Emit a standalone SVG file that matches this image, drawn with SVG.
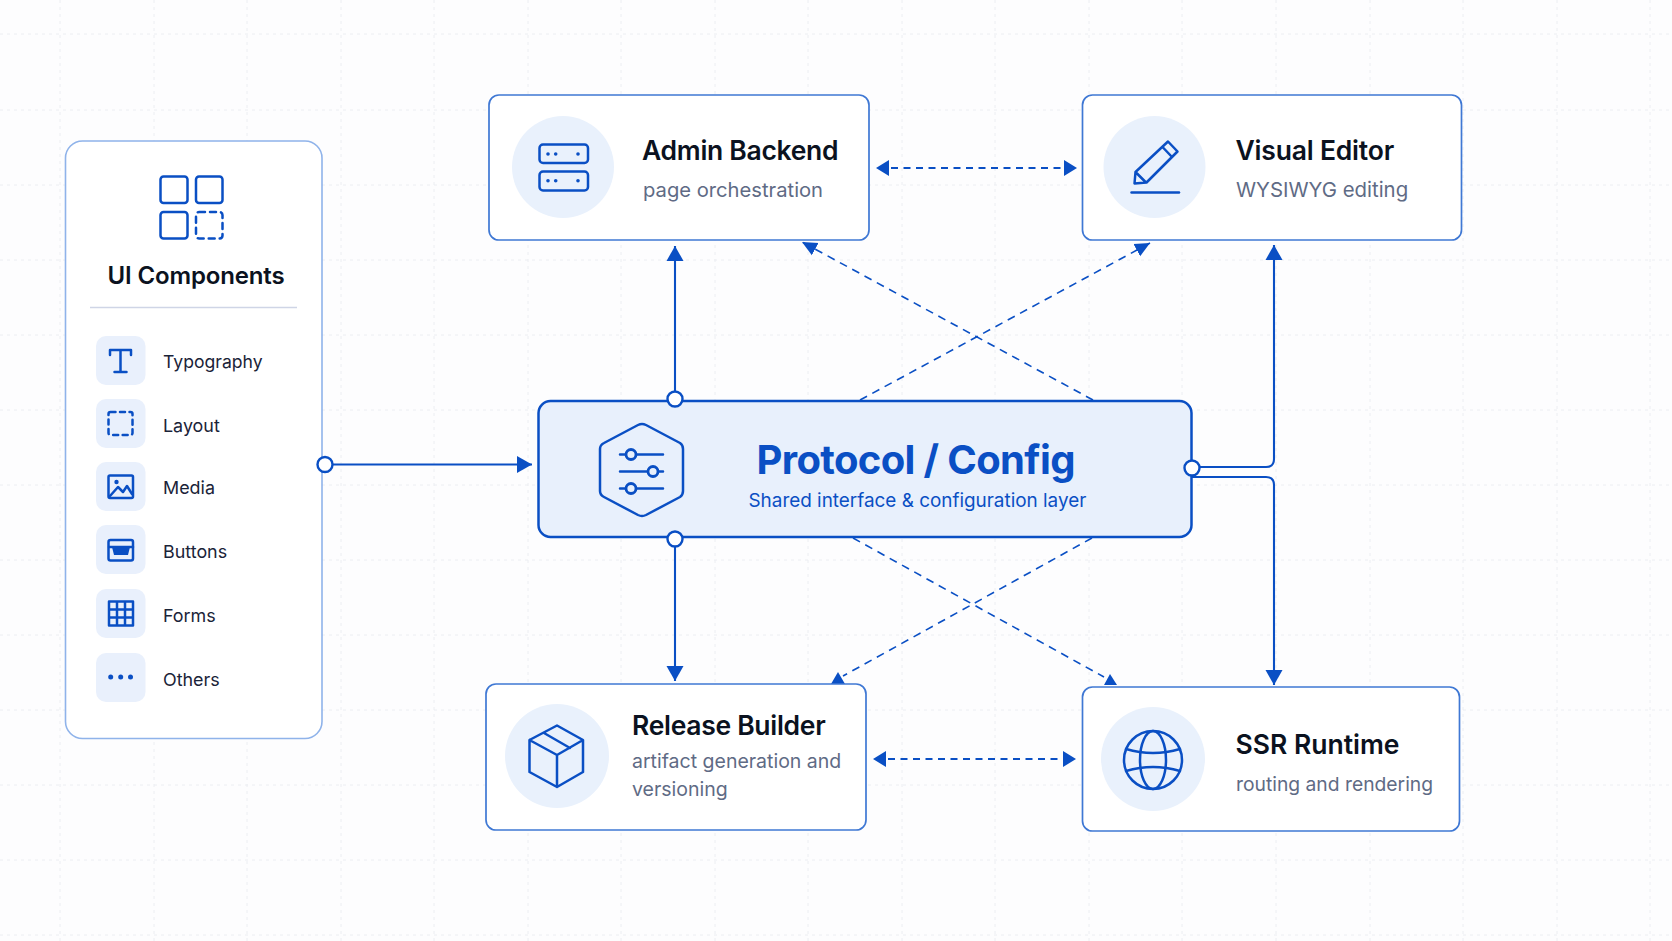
<svg xmlns="http://www.w3.org/2000/svg" width="1672" height="941" viewBox="0 0 1672 941">
<style>
text{font-family:"Inter","Liberation Sans",sans-serif}
.card{fill:#fff;stroke:#3f78d4;stroke-width:1.7}
.disc{fill:#e9f1fc}
.tile{fill:#e9f0fc}
.ico{fill:none;stroke:#0a4fc4;stroke-width:2.5;stroke-linecap:round;stroke-linejoin:round}
.fillb{fill:#0a4fc4}
.t{font-size:26.5px;font-weight:600;fill:#0b1220;letter-spacing:-.3px}
.s{font-size:20.2px;fill:#5f6b85}
.l{font-size:17.9px;fill:#1a2338}
.solid{fill:none;stroke:#0a4fc4;stroke-width:2.1}
.dash{fill:none;stroke:#0a4fc4;stroke-width:2.2;stroke-dasharray:7 5.500}
.thin{fill:none;stroke:#0a4fc4;stroke-width:1.6;stroke-dasharray:8 6}
.port{fill:#fff;stroke:#0a4fc4;stroke-width:2.4}
.grid line{stroke:#eceef2;stroke-width:1;stroke-dasharray:3 4}
</style>
<defs>
<marker id="arr" markerUnits="userSpaceOnUse" markerWidth="18" markerHeight="20" refX="15" refY="10" orient="auto"><path d="M0 1.500L15 10L0 18.500Z" fill="#0a4fc4"/></marker>
<marker id="arrs" markerUnits="userSpaceOnUse" markerWidth="18" markerHeight="18" refX="15" refY="9" orient="auto"><path d="M0 2L15 9L0 16Z" fill="#0a4fc4"/></marker>
</defs>
<rect width="1672" height="941" fill="#fdfdfe"/>
<g class="grid">
<line x1="60" y1="0" x2="60" y2="941"/><line x1="154" y1="0" x2="154" y2="941"/><line x1="247" y1="0" x2="247" y2="941"/><line x1="341" y1="0" x2="341" y2="941"/><line x1="434" y1="0" x2="434" y2="941"/><line x1="528" y1="0" x2="528" y2="941"/><line x1="621" y1="0" x2="621" y2="941"/><line x1="715" y1="0" x2="715" y2="941"/><line x1="808" y1="0" x2="808" y2="941"/><line x1="902" y1="0" x2="902" y2="941"/><line x1="995" y1="0" x2="995" y2="941"/><line x1="1089" y1="0" x2="1089" y2="941"/><line x1="1182" y1="0" x2="1182" y2="941"/><line x1="1276" y1="0" x2="1276" y2="941"/><line x1="1370" y1="0" x2="1370" y2="941"/><line x1="1463" y1="0" x2="1463" y2="941"/><line x1="1557" y1="0" x2="1557" y2="941"/><line x1="1650" y1="0" x2="1650" y2="941"/>
<line x1="0" y1="34" x2="1672" y2="34"/><line x1="0" y1="110" x2="1672" y2="110"/><line x1="0" y1="185" x2="1672" y2="185"/><line x1="0" y1="260" x2="1672" y2="260"/><line x1="0" y1="335" x2="1672" y2="335"/><line x1="0" y1="410" x2="1672" y2="410"/><line x1="0" y1="485" x2="1672" y2="485"/><line x1="0" y1="560" x2="1672" y2="560"/><line x1="0" y1="635" x2="1672" y2="635"/><line x1="0" y1="710" x2="1672" y2="710"/><line x1="0" y1="785" x2="1672" y2="785"/><line x1="0" y1="860" x2="1672" y2="860"/><line x1="0" y1="935" x2="1672" y2="935"/>
</g>
<g id="connectors">
<path class="solid" d="M325 464.500H532" marker-end="url(#arr)"/>
<path class="solid" d="M675 399V246" marker-end="url(#arr)"/>
<path class="solid" d="M675 539V681" marker-end="url(#arr)"/>
<path class="solid" d="M1192 467H1266Q1274 467 1274 459V245" marker-end="url(#arr)"/>
<path class="solid" d="M1192 477H1266Q1274 477 1274 485V685" marker-end="url(#arr)"/>
<path class="dash" d="M891 168H1062"/>
<path class="fillb" d="M876 168L889 160V176Z"/><path class="fillb" d="M1077 168L1064 160V176Z"/>
<path class="dash" d="M888 759H1061"/>
<path class="fillb" d="M873 759L886 751V767Z"/><path class="fillb" d="M1076 759L1063 751V767Z"/>
<path class="thin" d="M1093 400L802 242" marker-end="url(#arrs)"/>
<path class="thin" d="M860 400L1150 243" marker-end="url(#arrs)"/>
<path class="thin" d="M1092 538L843 676"/>
<path class="thin" d="M853 538L1104 677"/>
<path class="fillb" d="M838 672L845 684H831Z"/>
<path class="fillb" d="M1110 674L1117 685H1104Z"/>
</g>
<g id="ui-components">
<rect x="65.500" y="141" width="256.500" height="597.500" rx="17" fill="#fff" stroke="#8fb3ea" stroke-width="1.600"/>
<g class="ico">
<rect x="160.500" y="176.500" width="27" height="26.500" rx="3"/><rect x="196" y="176.500" width="26.500" height="26.500" rx="3"/><rect x="160.500" y="212" width="27" height="26.500" rx="3"/><rect x="196" y="212" width="26.500" height="26.500" rx="3" stroke-dasharray="6 5"/>
</g>
<text x="196" y="284" text-anchor="middle" font-size="24" font-weight="600" fill="#0b1220" letter-spacing="-.15">UI Components</text>
<line x1="90" y1="307.500" x2="297" y2="307.500" stroke="#cfd5e6" stroke-width="1.500"/>
<g id="item-typography"><rect class="tile" x="96" y="336" width="49.500" height="49" rx="10"/><path class="ico" stroke-width="2" d="M110 355V350H131V355M120.500 350V372M114.500 372H126.500"/><text class="l" x="163" y="368" font-size="17.600" style="font-size:17.600px">Typography</text></g>
<g id="item-layout"><rect class="tile" x="96" y="399" width="49.500" height="49" rx="10"/><rect class="ico" x="108.500" y="412" width="24" height="23" rx="2" stroke-dasharray="5 4.500"/><text class="l" x="163" y="431.500">Layout</text></g>
<g id="item-media"><rect class="tile" x="96" y="462" width="49.500" height="49" rx="10"/><rect class="ico" stroke-width="2.200" x="108.500" y="475.500" width="24.500" height="22.500" rx="1.500"/><circle class="fillb" cx="116.500" cy="482" r="2.200"/><path class="ico" stroke-width="2" d="M110 496L118 487L123 492L127 486L132 494"/><text class="l" x="163" y="493.500">Media</text></g>
<g id="item-buttons"><rect class="tile" x="96" y="525" width="49.500" height="49" rx="10"/><rect class="ico" x="108.500" y="540" width="24.500" height="20.500" rx="2"/><path class="ico" stroke-width="2" d="M109 547H133"/><path class="fillb" d="M112 547H130L128 555H114Z"/><text class="l" x="163" y="557.500">Buttons</text></g>
<g id="item-forms"><rect class="tile" x="96" y="589" width="49.500" height="49" rx="10"/><path class="ico" stroke-width="2" d="M109 601.500H133V625.500H109ZM117 601.500V625.500M125 601.500V625.500M109 609.500H133M109 617.500H133"/><text class="l" x="163" y="621.500">Forms</text></g>
<g id="item-others"><rect class="tile" x="96" y="653" width="49.500" height="49" rx="10"/><circle class="fillb" cx="110.700" cy="677" r="2.500"/><circle class="fillb" cx="120.700" cy="677" r="2.500"/><circle class="fillb" cx="130.500" cy="677" r="2.500"/><text class="l" x="163" y="685.500">Others</text></g>
</g>
<g id="admin-backend">
<rect class="card" x="489" y="95" width="380" height="145" rx="10"/>
<circle class="disc" cx="563" cy="167" r="51"/>
<rect class="ico" x="539.500" y="144.500" width="48.500" height="18.500" rx="3.500"/><rect class="ico" x="539.500" y="171.500" width="48.500" height="19" rx="3.500"/>
<circle class="fillb" cx="548" cy="154" r="1.800"/><circle class="fillb" cx="555.700" cy="154" r="1.800"/><circle class="fillb" cx="578" cy="154" r="1.800"/><circle class="fillb" cx="548" cy="180.700" r="1.800"/><circle class="fillb" cx="555.700" cy="180.700" r="1.800"/><circle class="fillb" cx="578" cy="180.700" r="1.800"/>
<text class="t" x="642" y="160">Admin Backend</text>
<text class="s" x="643" y="197">page orchestration</text>
</g>
<g id="visual-editor">
<rect class="card" x="1082.500" y="95" width="379" height="145" rx="10"/>
<circle class="disc" cx="1154.500" cy="167" r="51"/>
<path class="ico" d="M1134.500 183.500L1135.500 172L1168 141.500L1177.500 151.500L1146.500 182.500ZM1135.500 172L1146 182.500M1162.500 147L1172 157"/>
<path class="ico" stroke-width="3" stroke-linecap="butt" d="M1131.500 192.500H1179"/>
<text class="t" x="1235.500" y="160" style="letter-spacing:-.2px">Visual Editor</text>
<text class="s" x="1236" y="197" style="font-size:20.400px">WYSIWYG editing</text>
</g>
<g id="protocol-config">
<rect x="538.500" y="401" width="653" height="136" rx="12" fill="#e8f0fc" stroke="#0a4fc4" stroke-width="2.500"/>
<path class="ico" d="M638 425Q642 423 646 425L680 443Q683 445 683 449V491Q683 495 680 497L646 515Q642 517 638 515L604 497Q600 495 600 491V449Q600 445 604 443Z"/>
<path class="ico" stroke-linecap="butt" d="M620 454.500H663M620 471.500H663M620 488.500H663"/>
<circle cx="631" cy="454.500" r="5" fill="#e8f0fc" stroke="#0a4fc4" stroke-width="2.800"/><circle cx="653" cy="471.500" r="5" fill="#e8f0fc" stroke="#0a4fc4" stroke-width="2.800"/><circle cx="631" cy="488.500" r="5" fill="#e8f0fc" stroke="#0a4fc4" stroke-width="2.800"/>
<text x="756.500" y="474" font-size="40" font-weight="700" fill="#0a4fc4" letter-spacing="-.65">Protocol / Config</text>
<text x="748.500" y="507" font-size="18.900" fill="#0a4fc4">Shared interface &amp; configuration layer</text>
</g>
<g id="release-builder">
<rect class="card" x="486" y="684" width="380" height="146" rx="10"/>
<circle class="disc" cx="557" cy="756" r="52"/>
<path class="ico" d="M557 725.500L583 740V772L557 787L529.500 772V740ZM529.500 740L557 755L583 740M557 755V787M544 733L570 748"/>
<text class="t" x="632" y="735">Release Builder</text>
<text class="s" x="632" y="768" style="font-size:19.500px">artifact generation and</text>
<text class="s" x="632" y="796" style="font-size:19.500px">versioning</text>
</g>
<g id="ssr-runtime">
<rect class="card" x="1082.500" y="687" width="377" height="144" rx="10"/>
<circle class="disc" cx="1153" cy="759" r="52"/>
<circle class="ico" cx="1153" cy="760" r="29"/>
<ellipse class="ico" cx="1153" cy="760" rx="13" ry="29"/>
<path class="ico" d="M1126 749Q1153 757 1180 749M1126 771Q1153 763 1180 771"/>
<text class="t" x="1235.500" y="754" style="letter-spacing:0">SSR Runtime</text>
<text class="s" x="1236" y="790.500" style="font-size:19.300px">routing and rendering</text>
</g>
<g id="ports">
<circle class="port" cx="325" cy="464.500" r="7.500"/>
<circle class="port" cx="675" cy="399" r="7.500"/>
<circle class="port" cx="675" cy="539" r="7.500"/>
<circle class="port" cx="1192" cy="468" r="7.500"/>
</g>
</svg>
